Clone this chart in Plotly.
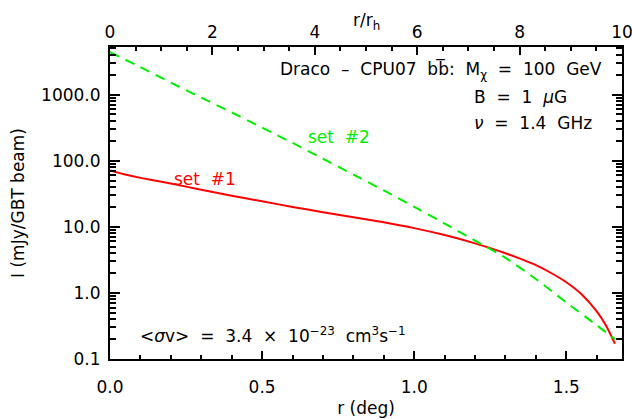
import plotly.graph_objects as go

# data
r_set1 = [0.0, 0.05, 0.1, 0.2, 0.3, 0.4, 0.5, 0.6, 0.7, 0.8, 0.9, 1.0, 1.1, 1.2, 1.26,
          1.3, 1.35, 1.4, 1.45, 1.5, 1.55, 1.6, 1.63, 1.66]
I_set1 = [71.0, 61.7, 55.0, 45.2, 36.3, 29.5, 24.3, 20.0, 16.6, 14.0, 11.7, 9.55, 7.5, 5.62,
          4.60, 3.98, 3.27, 2.63, 2.0, 1.45, 0.955, 0.525, 0.324, 0.17]
r_set2 = [0.0, 0.1, 0.2, 0.3, 0.4, 0.5, 0.6, 0.7, 0.8, 0.9, 1.0, 1.1, 1.2, 1.3, 1.4,
          1.5, 1.6, 1.66]
I_set2 = [4395, 2600, 1514, 899, 537, 316, 186, 107, 61.7, 35.5, 20.0, 11.2, 6.17, 3.39, 1.62,
          0.716, 0.324, 0.2]

x_range = [0, 1.683]
top_range = [0, 10]
y_range_log = [-1, 3.72]
y_ticks = [0.1, 1, 10, 100, 1000]
# log minor tick positions 2..9 in each decade
y_minor = [m * 10.0 ** e for e in range(-1, 4) for m in range(2, 10) if m * 10.0 ** e < 10 ** 3.72]

FONT = "DejaVu Sans"
FS = 17
S = "\u00a0"
fig = go.Figure()
fig.add_trace(go.Scatter(x=r_set1, y=I_set1, mode="lines",
                         line=dict(color="#ff0000", width=2, shape="spline", smoothing=0.6),
                         showlegend=False))
fig.add_trace(go.Scatter(x=r_set2, y=I_set2, mode="lines",
                         line=dict(color="#00ee00", width=2, dash="10px,7px", shape="spline", smoothing=0.6),
                         showlegend=False))
# invisible traces to activate the top and right axes
fig.add_trace(go.Scatter(x=top_range, y=[1, 1], xaxis="x2", yaxis="y", mode="lines",
                         line=dict(width=0), opacity=0, showlegend=False, hoverinfo="skip"))
fig.add_trace(go.Scatter(x=x_range, y=[1, 1], xaxis="x", yaxis="y2", mode="lines",
                         line=dict(width=0), opacity=0, showlegend=False, hoverinfo="skip"))

axis_common = dict(showline=True, linecolor="black", linewidth=2, ticks="inside",
                   tickcolor="black", tickwidth=2, showgrid=False, zeroline=False,
                   automargin=False, ticklabeloverflow="allow", layer="above traces",
                   tickfont=dict(family=FONT, size=FS, color="black"))
minor_common = dict(ticks="inside", tickcolor="black", tickwidth=2, showgrid=False)
y_minor_spec = dict(tickmode="array", tickvals=y_minor, ticklen=6, **minor_common)

fig.update_layout(
    width=632, height=419,
    margin=dict(l=110, r=10, t=47, b=60),
    paper_bgcolor="white", plot_bgcolor="white",
    font=dict(family=FONT, size=FS, color="black"),
    xaxis=dict(range=x_range, dtick=0.5, tickformat=".1f", ticklen=8, ticklabelstandoff=12,
               minor=dict(dtick=0.1, ticklen=4, **minor_common),
               title=dict(text="r (deg)", font=dict(family=FONT, size=FS), standoff=6),
               mirror=False, **axis_common),
    xaxis2=dict(range=top_range, overlaying="x", side="top", dtick=2, ticklen=8, ticklabelstandoff=0,
                minor=dict(dtick=0.5, ticklen=4, **minor_common),
                **axis_common),
    yaxis=dict(type="log", range=y_range_log, tickmode="array", tickvals=y_ticks,
               tickformat=".1f", ticklen=10, ticklabelstandoff=4,
               minor=y_minor_spec,
               title=dict(text="I (mJy/GBT beam)", font=dict(family=FONT, size=FS), standoff=12),
               mirror=False, **axis_common),
    yaxis2=dict(type="log", range=y_range_log, tickmode="array", tickvals=y_ticks,
                overlaying="y", side="right", ticklen=10, showticklabels=False,
                minor=y_minor_spec, **axis_common),
)

ann = dict(xref="paper", yref="paper", showarrow=False, font=dict(family=FONT, size=FS, color="black"))
# top axis title
fig.add_annotation(x=0.5, y=1.0, xanchor="center", yanchor="middle", yshift=26,
                   text="r/r<sub>h</sub>", **ann)
fig.add_annotation(x=0.965, y=0.926, xanchor="right", yanchor="middle",
                   text=f"Draco{S} \u2013 {S}CPU07{S} bb\u0305:{S} M<sub>\u03c7</sub>{S} ={S} 100{S} GeV", **ann)
fig.add_annotation(x=0.707, y=0.84, xanchor="left", yanchor="middle",
                   text=f"B{S} ={S} 1{S} <i>\u03bc</i>G", **ann)
fig.add_annotation(x=0.707, y=0.756, xanchor="left", yanchor="middle",
                   text=f"<i>\u03bd</i>{S} ={S} 1.4{S} GHz", **ann)
fig.add_annotation(x=0.055, y=0.077, xanchor="left", yanchor="middle",
                   text=(f"<<i>\u03c3</i>v>{S} ={S} 3.4{S} \u00d7{S} 10<sup>\u221223</sup>{S} "
                         f"cm<sup>3</sup>s<sup>\u22121</sup>"), **ann)
fig.add_annotation(x=0.447, y=0.71, xanchor="center", yanchor="middle",
                   text=f"set{S} #2", font=dict(family=FONT, size=FS, color="#00ee00"),
                   xref="paper", yref="paper", showarrow=False)
fig.add_annotation(x=0.186, y=0.578, xanchor="center", yanchor="middle",
                   text=f"set{S} #1", font=dict(family=FONT, size=FS, color="#ff0000"),
                   xref="paper", yref="paper", showarrow=False)

fig.write_html("out.html", config={"displayModeBar": False},
               post_script="document.body.style.margin='0';document.body.style.overflow='hidden';")
